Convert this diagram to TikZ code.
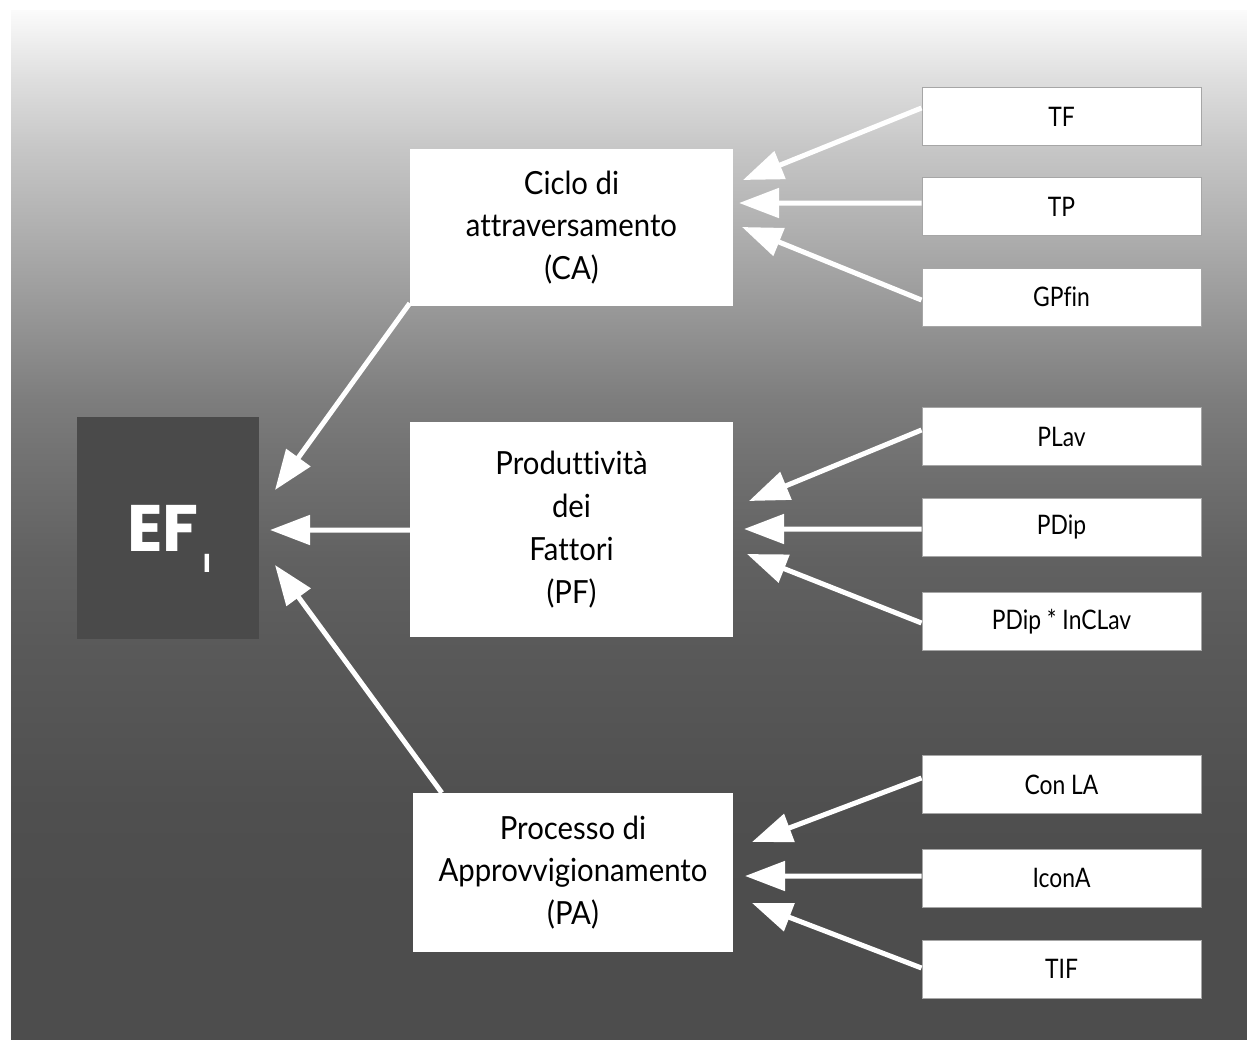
\documentclass[tikz,border=0pt]{standalone}
\usepackage{fontspec}
\setmainfont{Lato}[FakeStretch=0.92, Ligatures=NoCommon]
\newfontfamily\smallfont{Lato}[FakeStretch=0.85, Ligatures=NoCommon]
\newfontfamily\effont{Poppins}
\usetikzlibrary{arrows.meta}
\definecolor{g0}{RGB}{77,77,77}
\definecolor{g1}{RGB}{79,79,79}
\definecolor{g2}{RGB}{89,89,89}
\definecolor{g3}{RGB}{97,97,97}
\definecolor{g4}{RGB}{115,115,115}
\definecolor{g5}{RGB}{125,125,125}
\definecolor{g6}{RGB}{158,158,158}
\definecolor{g7}{RGB}{198,198,198}
\definecolor{g8}{RGB}{222,222,222}
\definecolor{g9}{RGB}{251,251,251}
\definecolor{efgray}{RGB}{74,74,74}
\pgfdeclareverticalshading{bgshade}{100bp}{color(0bp)=(g0); color(25bp)=(g0); color(31.8bp)=(g0); color(36.17bp)=(g1); color(43.93bp)=(g2); color(48.3bp)=(g3); color(53.64bp)=(g4); color(56.07bp)=(g5); color(61.41bp)=(g6); color(68.2bp)=(g7); color(71.6bp)=(g8); color(75bp)=(g9); color(100bp)=(g9)}
\begin{document}
\begin{tikzpicture}[x=1bp,y=-1bp,
  smallbox/.style={draw=gray!70, line width=1bp, fill=white, minimum width=279bp, minimum height=58bp, inner sep=0pt, font=\smallfont\fontsize{27}{32}\selectfont},
  midbox/.style={fill=white, inner sep=0pt, minimum width=323bp, align=center, font=\fontsize{32}{43}\selectfont},
  efbox/.style={fill=efgray, inner sep=0pt, minimum width=182bp, minimum height=222bp},
  eftext/.style={text=white, inner sep=0pt, anchor=base},
  arr/.style={draw=white, line width=5bp, -{Triangle[length=40bp,width=29bp]}}]
\fill[white] (0,0) rectangle (1247,1040);
\shade[shading=bgshade] (11,10) rectangle (1247,1040);
\useasboundingbox (0,0) rectangle (1247,1040);

% left box
\node[efbox] (ef) at (168,528) {};
\node[eftext, font=\effont\bfseries\fontsize{66}{66}\selectfont] (eft) at (163,551) {EF};
\node[eftext, font=\effont\bfseries\fontsize{26}{26}\selectfont] (efsub) at (207,572) {I};

% middle boxes
\node[midbox, minimum height=157bp] (ca) at (571.5,227.5) {Ciclo di\\attraversamento\\(CA)};
\node[midbox, minimum height=215bp] (pf) at (571.5,529.5) {Produttività\\dei\\Fattori\\(PF)};
\node[midbox, minimum width=320bp, minimum height=159bp] (pa) at (573,872.5) {Processo di\\Approvvigionamento\\(PA)};

% small boxes
\node[smallbox] (tf) at (1061.5,116.5) {TF};
\node[smallbox] (tp) at (1061.5,206.5) {TP};
\node[smallbox] (gp) at (1061.5,297) {GPfin};
\node[smallbox] (plav) at (1061.5,436.5) {PLav};
\node[smallbox] (pdip) at (1061.5,527) {PDip};
\node[smallbox] (pdin) at (1061.5,621.5) {PDip * InCLav};
\node[smallbox] (conla) at (1061.5,784.5) {Con LA};
\node[smallbox] (icona) at (1061.5,878) {IconA};
\node[smallbox] (tif) at (1061.5,969) {TIF};

% arrow tips
\coordinate (tEFa) at (275,490);
\coordinate (tEFb) at (270,530);
\coordinate (tEFc) at (275,565);
\coordinate (tCA1) at (743,180);
\coordinate (tCA2) at (739,203);
\coordinate (tCA3) at (742,227);
\coordinate (tPF1) at (749,501);
\coordinate (tPF2) at (744,529);
\coordinate (tPF3) at (747,554);
\coordinate (tPA1) at (752,842);
\coordinate (tPA2) at (745,876);
\coordinate (tPA3) at (752,903);

% arrows into EF
\draw[arr] ([yshift=3bp]ca.south west) -- (tEFa);
\draw[arr] ([yshift=-0.5bp]pf.west) -- (tEFb);
\draw[arr] ([xshift=29bp]pa.north west) -- (tEFc);

% arrows into CA
\draw[arr] ([yshift=8.5bp]tf.west) -- (tCA1);
\draw[arr] ([yshift=3.5bp]tp.west) -- (tCA2);
\draw[arr] ([yshift=-3bp]gp.west) -- (tCA3);

% arrows into PF
\draw[arr] ([yshift=6.5bp]plav.west) -- (tPF1);
\draw[arr] ([yshift=-2bp]pdip.west) -- (tPF2);
\draw[arr] ([yshift=-1.5bp]pdin.west) -- (tPF3);

% arrows into PA
\draw[arr] ([yshift=6.5bp]conla.west) -- (tPA1);
\draw[arr] ([yshift=2bp]icona.west) -- (tPA2);
\draw[arr] ([yshift=1bp]tif.west) -- (tPA3);
\end{tikzpicture}
\end{document}
